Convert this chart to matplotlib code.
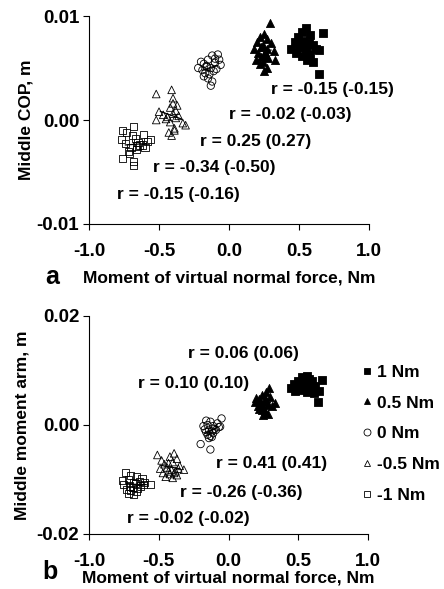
import numpy as np
import matplotlib
matplotlib.use("Agg")
import matplotlib.pyplot as plt
from matplotlib.lines import Line2D

plt.rcParams['font.family'] = ['Liberation Sans', 'DejaVu Sans']
plt.rcParams['font.weight'] = 'bold'

labels = ['1 Nm', '0.5 Nm', '0 Nm', '-0.5 Nm', '-1 Nm']

# ---- panel a: middle COP ----
a_x_m1 = [-0.76,-0.68,-0.61,-0.56,-0.77,-0.73,-0.69,-0.67,-0.65,-0.62,-0.58,-0.74,-0.72,-0.70,-0.66,-0.64,-0.71,-0.76,-0.68,-0.68,-0.60,-0.66]
a_y_m1 = [-0.0010,-0.0006,-0.0014,-0.0019,-0.0019,-0.0012,-0.0015,-0.0018,-0.0022,-0.0024,-0.0021,-0.0023,-0.0030,-0.0026,-0.0025,-0.0024,-0.0032,-0.0037,-0.0040,-0.0044,-0.0026,-0.0028]
a_x_m05 = [-0.52,-0.41,-0.40,-0.50,-0.52,-0.47,-0.44,-0.42,-0.40,-0.38,-0.36,-0.33,-0.31,-0.39,-0.41,-0.43,-0.38,-0.40,-0.45,-0.37,-0.42,-0.39]
a_y_m05 = [0.0025,0.0029,0.0021,0.0008,0.0000,0.0005,0.0003,0.0012,0.0016,0.0009,0.0004,-0.0003,-0.0005,-0.0010,-0.0015,-0.0012,0.0002,0.0006,0.0001,0.0014,-0.0002,-0.0008]
a_x_0 = [-0.20,-0.18,-0.15,-0.12,-0.08,-0.07,-0.22,-0.19,-0.16,-0.13,-0.10,-0.06,-0.17,-0.14,-0.11,-0.09,-0.18,-0.15,-0.12,-0.13,-0.10,-0.16]
a_y_0 = [0.0056,0.0054,0.0058,0.0062,0.0063,0.0058,0.0050,0.0048,0.0052,0.0050,0.0055,0.0053,0.0045,0.0044,0.0047,0.0049,0.0042,0.0040,0.0037,0.0033,0.0059,0.0051]
a_x_05 = [0.29,0.25,0.22,0.27,0.20,0.24,0.30,0.18,0.23,0.27,0.32,0.21,0.26,0.19,0.28,0.24,0.33,0.22,0.27,0.25,0.26,0.23]
a_y_05 = [0.0093,0.0083,0.0080,0.0078,0.0075,0.0072,0.0074,0.0068,0.0070,0.0068,0.0066,0.0064,0.0062,0.0058,0.0060,0.0056,0.0058,0.0054,0.0050,0.0047,0.0065,0.0061]
a_x_1 = [0.55,0.52,0.58,0.67,0.49,0.47,0.53,0.57,0.60,0.44,0.50,0.55,0.62,0.48,0.52,0.58,0.64,0.53,0.56,0.60,0.64,0.51]
a_y_1 = [0.0088,0.0085,0.0082,0.0084,0.0080,0.0075,0.0076,0.0074,0.0072,0.0068,0.0070,0.0066,0.0068,0.0064,0.0062,0.0063,0.0067,0.0072,0.0058,0.0056,0.0044,0.0070]
a_r = ['r = -0.15 (-0.15)', 'r = -0.02 (-0.03)', 'r = 0.25 (0.27)', 'r = -0.34 (-0.50)', 'r = -0.15 (-0.16)']
a_rx = [0.30, 0.0, -0.21, -0.54, -0.80]
a_ry = [0.0029, 0.0005, -0.0021, -0.0046, -0.0072]

# ---- panel b: middle moment arm ----
b_x_m1 = [-0.74,-0.70,-0.66,-0.62,-0.76,-0.72,-0.68,-0.64,-0.60,-0.56,-0.75,-0.71,-0.67,-0.63,-0.69,-0.73,-0.65,-0.70,-0.66,-0.72,-0.68,-0.61]
b_y_m1 = [-0.0087,-0.0093,-0.0095,-0.0098,-0.0102,-0.0100,-0.0105,-0.0104,-0.0106,-0.0110,-0.0110,-0.0112,-0.0108,-0.0112,-0.0115,-0.0118,-0.0116,-0.0120,-0.0122,-0.0125,-0.0127,-0.0109]
b_x_m05 = [-0.51,-0.48,-0.42,-0.39,-0.37,-0.46,-0.43,-0.40,-0.35,-0.32,-0.49,-0.44,-0.41,-0.38,-0.36,-0.47,-0.42,-0.39,-0.45,-0.40,-0.37,-0.43]
b_y_m05 = [-0.0055,-0.0065,-0.0058,-0.0052,-0.0062,-0.0072,-0.0070,-0.0068,-0.0075,-0.0082,-0.0080,-0.0078,-0.0082,-0.0085,-0.0080,-0.0088,-0.0090,-0.0088,-0.0095,-0.0097,-0.0092,-0.0085]
b_x_0 = [-0.16,-0.13,-0.08,-0.05,-0.18,-0.15,-0.11,-0.07,-0.17,-0.14,-0.10,-0.06,-0.16,-0.12,-0.09,-0.15,-0.13,-0.11,-0.14,-0.12,-0.20,-0.13]
b_y_0 = [0.0008,0.0006,0.0003,0.0012,-0.0002,0.0000,-0.0002,-0.0004,-0.0008,-0.0010,-0.0007,-0.0003,-0.0013,-0.0012,-0.0009,-0.0018,-0.0020,-0.0015,-0.0024,-0.0022,-0.0035,-0.0045]
b_x_05 = [0.29,0.27,0.24,0.20,0.22,0.26,0.30,0.33,0.19,0.23,0.27,0.31,0.21,0.25,0.28,0.24,0.26,0.22,0.28,0.25,0.27,0.23]
b_y_05 = [0.0068,0.0060,0.0055,0.0050,0.0047,0.0048,0.0052,0.0040,0.0042,0.0040,0.0043,0.0035,0.0035,0.0032,0.0036,0.0028,0.0025,0.0030,0.0020,0.0018,0.0045,0.0038]
b_x_1 = [0.53,0.56,0.58,0.50,0.55,0.60,0.67,0.47,0.52,0.57,0.62,0.45,0.49,0.54,0.59,0.65,0.48,0.52,0.56,0.61,0.64,0.58]
b_y_1 = [0.0088,0.0090,0.0085,0.0080,0.0082,0.0080,0.0082,0.0075,0.0076,0.0074,0.0072,0.0068,0.0070,0.0070,0.0068,0.0062,0.0062,0.0064,0.0060,0.0058,0.0043,0.0065]
b_r = ['r = 0.06 (0.06)', 'r = 0.10 (0.10)', 'r = 0.41 (0.41)', 'r = -0.26 (-0.36)', 'r = -0.02 (-0.02)']
b_rx = [-0.29, -0.65, -0.09, -0.35, -0.73]
b_ry = [0.0132, 0.0077, -0.0070, -0.0123, -0.0172]

# marker styles (marker, face, size)
styles = [('s', 'black', 30), ('^', 'black', 34), ('o', 'none', 28), ('^', 'none', 30), ('s', 'none', 26)]

fs = 12.5
tfs = 13.5

def panel(ax, xs, ys, rtxt, rx, ry, ylim, yticks, ylab, ypad):
    for (x, y), (m, fc, s) in zip(zip(xs, ys), styles):
        x = np.array(x); y = np.array(y)
        ax.scatter(x, y, marker=m, s=s, facecolors=fc, edgecolors='black',
                   linewidths=0.6, zorder=2)
        # short fitted line through each cluster
        k, b = np.polyfit(x, y, 1)
        xx = np.array([x.min() + 0.03, x.max() - 0.03])
        ax.plot(xx, k * xx + b, color='black', lw=0.9, zorder=3)
    for t, tx, ty in zip(rtxt, rx, ry):
        ax.text(tx, ty, t, fontsize=fs, fontweight='bold', va='center', ha='left')
    ax.set_xlim(-1, 1)
    ax.set_ylim(*ylim)
    ax.set_xticks([-1.0, -0.5, 0.0, 0.5, 1.0])
    ax.set_xticklabels(['-1.0', '-0.5', '0.0', '0.5', '1.0'])
    ax.set_yticks(yticks)
    ax.set_yticklabels(['%.2f' % v for v in yticks])
    for sp in ['top', 'right']:
        ax.spines[sp].set_visible(False)
    for sp in ['left', 'bottom']:
        ax.spines[sp].set_linewidth(0.8)
    ax.tick_params(direction='out', length=4, width=0.8, labelsize=tfs)
    ax.tick_params(axis='y', pad=3)
    ax.tick_params(axis='x', pad=9.5)
    ax.set_ylabel(ylab, fontsize=fs, fontweight='bold', labelpad=ypad)
    ax.set_xlabel('Moment of virtual normal force, Nm', fontsize=fs, fontweight='bold')

fig = plt.figure(figsize=(4.44, 5.89), dpi=100)
ax1 = fig.add_axes([0.2005, 0.6197, 0.6306, 0.3531])
ax2 = fig.add_axes([0.2005, 0.0934, 0.6284, 0.3701])

panel(ax1, [a_x_1, a_x_05, a_x_0, a_x_m05, a_x_m1], [a_y_1, a_y_05, a_y_0, a_y_m05, a_y_m1],
      a_r, a_rx, a_ry, (-0.01, 0.01), [-0.01, 0.0, 0.01], 'Middle COP, m', 2)
panel(ax2, [b_x_1, b_x_05, b_x_0, b_x_m05, b_x_m1], [b_y_1, b_y_05, b_y_0, b_y_m05, b_y_m1],
      b_r, b_rx, b_ry, (-0.02, 0.02), [-0.02, 0.0, 0.02], 'Middle moment arm, m', 5)
ax1.xaxis.labelpad = 7.5
ax2.xaxis.labelpad = 0.5

fig.text(0.117, 0.530, 'a', fontsize=18, fontweight='bold', ha='center', va='center')
fig.text(0.113, 0.029, 'b', fontsize=18, fontweight='bold', ha='center', va='center')

handles = [Line2D([], [], ls='none', marker=m, markerfacecolor=fc, markeredgecolor='black',
                  markeredgewidth=0.6, markersize=5) for (m, fc, s) in styles]
fig.legend(handles, labels, loc='upper left', bbox_to_anchor=(0.815, 0.381),
           frameon=False, fontsize=fs, handlelength=0.6, handletextpad=0.3,
           labelspacing=0.9, borderaxespad=0, borderpad=0)

fig.savefig('out.png', dpi=100)
